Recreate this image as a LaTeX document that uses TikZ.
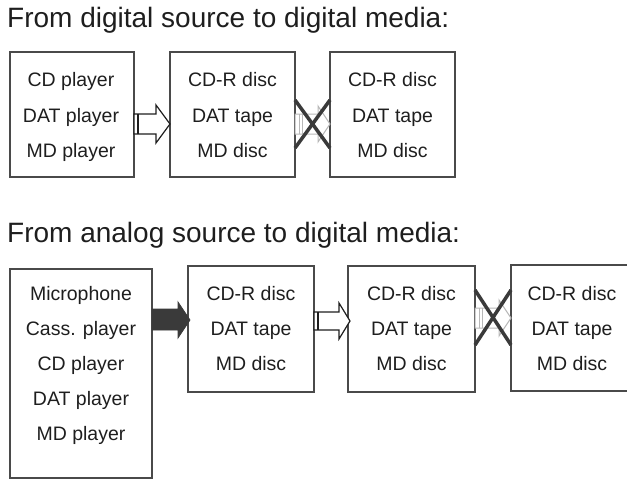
\documentclass[tikz,border=0pt]{standalone}
\usepackage{fontspec}
\setmainfont{Liberation Sans}
\usetikzlibrary{calc}
\definecolor{ink}{HTML}{1E1E1E}
\definecolor{frame}{HTML}{4A4A4A}
\definecolor{darkfill}{HTML}{3A3A3A}
\definecolor{faint}{HTML}{B8B8B8}
\begin{document}
\begin{tikzpicture}[x=1pt,y=-1pt,
  titletext/.style={anchor=base west,inner sep=0pt,text=ink,font=\fontsize{28}{30}\selectfont},
  boxtext/.style={anchor=base,inner sep=0pt,text=ink,font=\fontsize{19.5}{21}\selectfont},
  mbox/.style={draw=frame,line width=1.5pt,fill=none,inner sep=0pt,rectangle},
  hollowarrow/.style={draw=ink,line width=1.2pt,fill=white,line join=miter},
  solidarrow/.style={draw=darkfill,line width=0.8pt,fill=darkfill},
  faintarrow/.style={draw=faint,line width=1pt,fill=white},
  crossline/.style={draw=darkfill,line width=3.5pt}]
\useasboundingbox (0,0) rectangle (627,480);

% titles
\node[titletext] (t1) at (7,27) {From digital source to digital media:};
\node[titletext] (t2) at (7,242) {From analog source to digital media:};

% top row boxes
\node[mbox,minimum width=124pt,minimum height=125pt] (d1) at (72,114.5) {};
\node[mbox,minimum width=125pt,minimum height=125pt] (d2) at (232.5,114.5) {};
\node[mbox,minimum width=125pt,minimum height=125pt] (d3) at (392.5,114.5) {};

\node[boxtext] (d1a) at (71,86) {CD player};
\node[boxtext] (d1b) at (71,122) {DAT player};
\node[boxtext] (d1c) at (71,157) {MD player};
\node[boxtext] (d2a) at (232.5,86) {CD-R disc};
\node[boxtext] (d2b) at (232.5,122) {DAT tape};
\node[boxtext] (d2c) at (232.5,157) {MD disc};
\node[boxtext] (d3a) at (392.5,86) {CD-R disc};
\node[boxtext] (d3b) at (392.5,122) {DAT tape};
\node[boxtext] (d3c) at (392.5,157) {MD disc};

% bottom row boxes
\node[mbox,minimum width=142pt,minimum height=209pt] (a1) at (81,373.5) {};
\node[mbox,minimum width=126pt,minimum height=126pt] (a2) at (251,329) {};
\node[mbox,minimum width=127pt,minimum height=126pt] (a3) at (411.5,329) {};
\node[mbox,minimum width=117pt,minimum height=126pt] (a4) at (569.5,328) {};

\node[boxtext] (a1a) at (81,300) {Microphone};
\node[boxtext] (a1b) at (81,335) {Cass. player};
\node[boxtext] (a1c) at (81,370) {CD player};
\node[boxtext] (a1d) at (81,405) {DAT player};
\node[boxtext] (a1e) at (81,440) {MD player};
\node[boxtext] (a2a) at (251,300) {CD-R disc};
\node[boxtext] (a2b) at (251,335) {DAT tape};
\node[boxtext] (a2c) at (251,370) {MD disc};
\node[boxtext] (a3a) at (411.5,300) {CD-R disc};
\node[boxtext] (a3b) at (411.5,335) {DAT tape};
\node[boxtext] (a3c) at (411.5,370) {MD disc};
\node[boxtext] (a4a) at (572,300) {CD-R disc};
\node[boxtext] (a4b) at (572,335) {DAT tape};
\node[boxtext] (a4c) at (572,370) {MD disc};

% top: hollow arrow d1 -> d2
\draw[hollowarrow] (134,114) -- (156,114) -- (156,105) -- (170,124) -- (156,143) -- (156,134) -- (134,134) -- cycle;
\draw[draw=ink,line width=1.2pt] (138,114) -- (138,134);

% top: crossed-out arrow d2 -> d3
\draw[faintarrow] (295,114) -- (318,114) -- (318,106) -- (330,124) -- (318,142) -- (318,134) -- (295,134) -- cycle;
\draw[draw=faint,line width=1pt] (299,114) -- (299,134) (302,114) -- (302,134);
\draw[crossline] (295,100) -- (330,148);
\draw[crossline] (295,148) -- (330,100);

% bottom: solid arrow a1 -> a2
\draw[solidarrow] (152,309) -- (178,309) -- (178,302) -- (190,320) -- (178,338) -- (178,330) -- (152,330) -- cycle;

% bottom: hollow arrow a2 -> a3
\draw[hollowarrow] (314,312) -- (339,312) -- (339,303) -- (350,321) -- (339,339) -- (339,330) -- (314,330) -- cycle;
\draw[draw=ink,line width=1.2pt] (318,312) -- (318,330);

% bottom: crossed-out arrow a3 -> a4
\draw[faintarrow] (475,308) -- (499,308) -- (499,300) -- (511,318) -- (499,336) -- (499,328) -- (475,328) -- cycle;
\draw[draw=faint,line width=1pt] (479,308) -- (479,328) (482,308) -- (482,328);
\draw[crossline] (475,290) -- (511,345);
\draw[crossline] (475,345) -- (511,290);
\end{tikzpicture}
\end{document}
